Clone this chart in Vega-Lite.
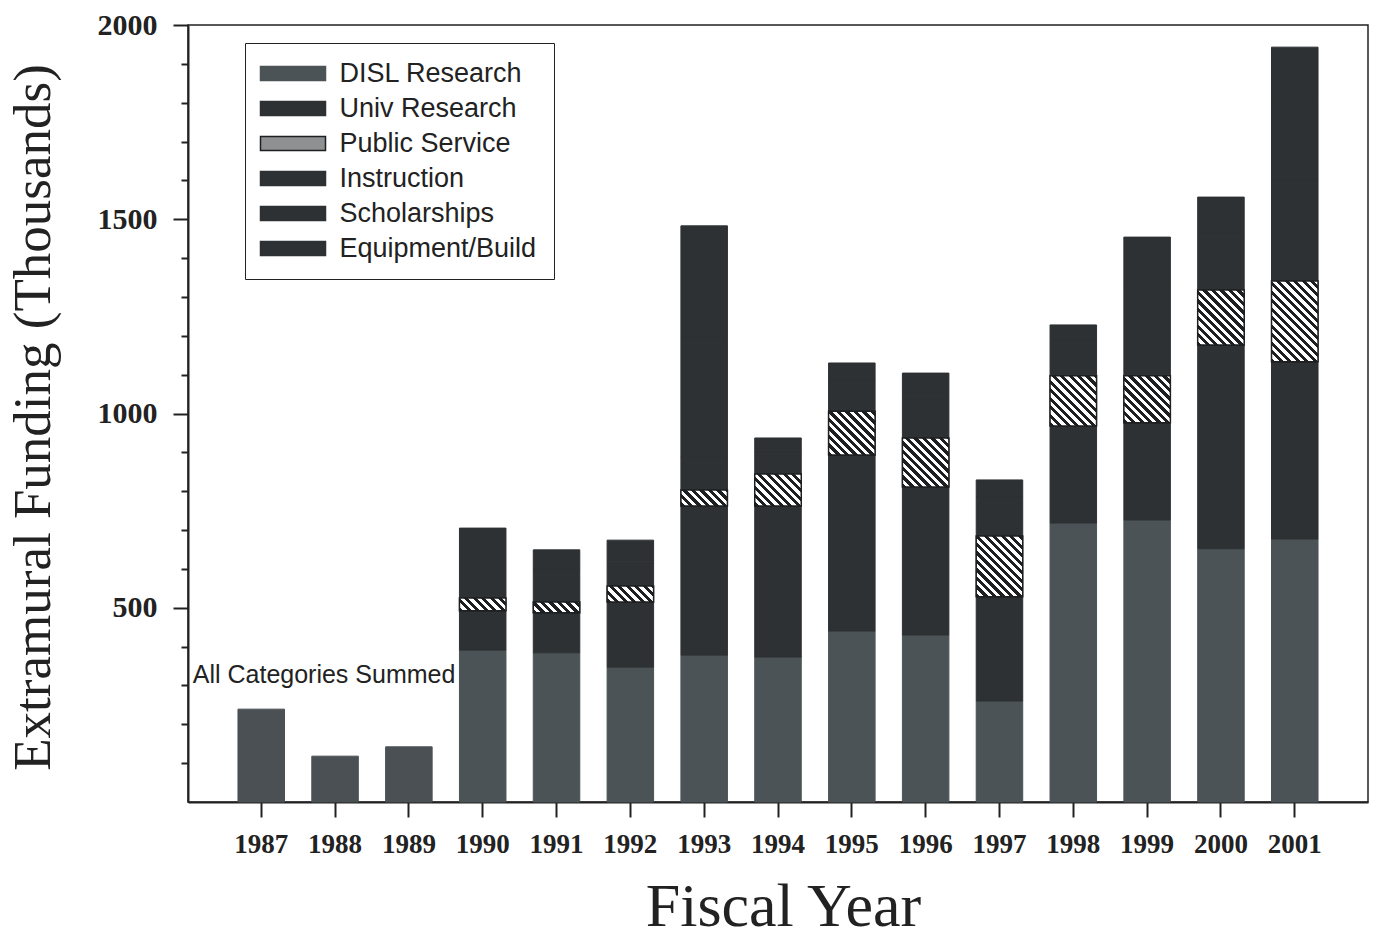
{
  "$schema": "https://vega.github.io/schema/vega-lite/v6.json",
  "width": 1180,
  "height": 777,
  "autosize": {"type": "none"},
  "padding": {"left": 188, "top": 25, "right": 8, "bottom": 135},
  "background": "#ffffff",
  "config": {
    "view": {"stroke": "#222222", "strokeWidth": 1.5},
    "axis": {"grid": false}
  },
  "params": [
    {"name": "hs", "value": [
      {"offset":0,"color":"#1d1f21"},{"offset":0.01667,"color":"#1d1f21"},{"offset":0.01667,"color":"#ffffff"},{"offset":0.03333,"color":"#ffffff"},
      {"offset":0.03333,"color":"#1d1f21"},{"offset":0.05,"color":"#1d1f21"},{"offset":0.05,"color":"#ffffff"},{"offset":0.06667,"color":"#ffffff"},
      {"offset":0.06667,"color":"#1d1f21"},{"offset":0.08333,"color":"#1d1f21"},{"offset":0.08333,"color":"#ffffff"},{"offset":0.1,"color":"#ffffff"},
      {"offset":0.1,"color":"#1d1f21"},{"offset":0.11667,"color":"#1d1f21"},{"offset":0.11667,"color":"#ffffff"},{"offset":0.13333,"color":"#ffffff"},
      {"offset":0.13333,"color":"#1d1f21"},{"offset":0.15,"color":"#1d1f21"},{"offset":0.15,"color":"#ffffff"},{"offset":0.16667,"color":"#ffffff"},
      {"offset":0.16667,"color":"#1d1f21"},{"offset":0.18333,"color":"#1d1f21"},{"offset":0.18333,"color":"#ffffff"},{"offset":0.2,"color":"#ffffff"},
      {"offset":0.2,"color":"#1d1f21"},{"offset":0.21667,"color":"#1d1f21"},{"offset":0.21667,"color":"#ffffff"},{"offset":0.23333,"color":"#ffffff"},
      {"offset":0.23333,"color":"#1d1f21"},{"offset":0.25,"color":"#1d1f21"},{"offset":0.25,"color":"#ffffff"},{"offset":0.26667,"color":"#ffffff"},
      {"offset":0.26667,"color":"#1d1f21"},{"offset":0.28333,"color":"#1d1f21"},{"offset":0.28333,"color":"#ffffff"},{"offset":0.3,"color":"#ffffff"},
      {"offset":0.3,"color":"#1d1f21"},{"offset":0.31667,"color":"#1d1f21"},{"offset":0.31667,"color":"#ffffff"},{"offset":0.33333,"color":"#ffffff"},
      {"offset":0.33333,"color":"#1d1f21"},{"offset":0.35,"color":"#1d1f21"},{"offset":0.35,"color":"#ffffff"},{"offset":0.36667,"color":"#ffffff"},
      {"offset":0.36667,"color":"#1d1f21"},{"offset":0.38333,"color":"#1d1f21"},{"offset":0.38333,"color":"#ffffff"},{"offset":0.4,"color":"#ffffff"},
      {"offset":0.4,"color":"#1d1f21"},{"offset":0.41667,"color":"#1d1f21"},{"offset":0.41667,"color":"#ffffff"},{"offset":0.43333,"color":"#ffffff"},
      {"offset":0.43333,"color":"#1d1f21"},{"offset":0.45,"color":"#1d1f21"},{"offset":0.45,"color":"#ffffff"},{"offset":0.46667,"color":"#ffffff"},
      {"offset":0.46667,"color":"#1d1f21"},{"offset":0.48333,"color":"#1d1f21"},{"offset":0.48333,"color":"#ffffff"},{"offset":0.5,"color":"#ffffff"},
      {"offset":0.5,"color":"#1d1f21"},{"offset":0.51667,"color":"#1d1f21"},{"offset":0.51667,"color":"#ffffff"},{"offset":0.53333,"color":"#ffffff"},
      {"offset":0.53333,"color":"#1d1f21"},{"offset":0.55,"color":"#1d1f21"},{"offset":0.55,"color":"#ffffff"},{"offset":0.56667,"color":"#ffffff"},
      {"offset":0.56667,"color":"#1d1f21"},{"offset":0.58333,"color":"#1d1f21"},{"offset":0.58333,"color":"#ffffff"},{"offset":0.6,"color":"#ffffff"},
      {"offset":0.6,"color":"#1d1f21"},{"offset":0.61667,"color":"#1d1f21"},{"offset":0.61667,"color":"#ffffff"},{"offset":0.63333,"color":"#ffffff"},
      {"offset":0.63333,"color":"#1d1f21"},{"offset":0.65,"color":"#1d1f21"},{"offset":0.65,"color":"#ffffff"},{"offset":0.66667,"color":"#ffffff"},
      {"offset":0.66667,"color":"#1d1f21"},{"offset":0.68333,"color":"#1d1f21"},{"offset":0.68333,"color":"#ffffff"},{"offset":0.7,"color":"#ffffff"},
      {"offset":0.7,"color":"#1d1f21"},{"offset":0.71667,"color":"#1d1f21"},{"offset":0.71667,"color":"#ffffff"},{"offset":0.73333,"color":"#ffffff"},
      {"offset":0.73333,"color":"#1d1f21"},{"offset":0.75,"color":"#1d1f21"},{"offset":0.75,"color":"#ffffff"},{"offset":0.76667,"color":"#ffffff"},
      {"offset":0.76667,"color":"#1d1f21"},{"offset":0.78333,"color":"#1d1f21"},{"offset":0.78333,"color":"#ffffff"},{"offset":0.8,"color":"#ffffff"},
      {"offset":0.8,"color":"#1d1f21"},{"offset":0.81667,"color":"#1d1f21"},{"offset":0.81667,"color":"#ffffff"},{"offset":0.83333,"color":"#ffffff"},
      {"offset":0.83333,"color":"#1d1f21"},{"offset":0.85,"color":"#1d1f21"},{"offset":0.85,"color":"#ffffff"},{"offset":0.86667,"color":"#ffffff"},
      {"offset":0.86667,"color":"#1d1f21"},{"offset":0.88333,"color":"#1d1f21"},{"offset":0.88333,"color":"#ffffff"},{"offset":0.9,"color":"#ffffff"},
      {"offset":0.9,"color":"#1d1f21"},{"offset":0.91667,"color":"#1d1f21"},{"offset":0.91667,"color":"#ffffff"},{"offset":0.93333,"color":"#ffffff"},
      {"offset":0.93333,"color":"#1d1f21"},{"offset":0.95,"color":"#1d1f21"},{"offset":0.95,"color":"#ffffff"},{"offset":0.96667,"color":"#ffffff"},
      {"offset":0.96667,"color":"#1d1f21"},{"offset":0.98333,"color":"#1d1f21"},{"offset":0.98333,"color":"#ffffff"},{"offset":1,"color":"#ffffff"}
    ]}
  ],
  "datasets": {
    "funding": [
      {"year":"1987","category":"All Categories Summed","value":239},
      {"year":"1988","category":"All Categories Summed","value":118},
      {"year":"1989","category":"All Categories Summed","value":142},
      {"year":"1990","category":"DISL Research","value":391},
      {"year":"1990","category":"Univ Research","value":101},
      {"year":"1990","category":"Public Service","value":33},
      {"year":"1990","category":"Instruction","value":111},
      {"year":"1990","category":"Scholarships","value":69},
      {"year":"1991","category":"DISL Research","value":384},
      {"year":"1991","category":"Univ Research","value":103},
      {"year":"1991","category":"Public Service","value":28},
      {"year":"1991","category":"Instruction","value":85},
      {"year":"1991","category":"Scholarships","value":49},
      {"year":"1992","category":"DISL Research","value":347},
      {"year":"1992","category":"Univ Research","value":168},
      {"year":"1992","category":"Public Service","value":41},
      {"year":"1992","category":"Instruction","value":64},
      {"year":"1992","category":"Scholarships","value":54},
      {"year":"1993","category":"DISL Research","value":378},
      {"year":"1993","category":"Univ Research","value":384},
      {"year":"1993","category":"Public Service","value":41},
      {"year":"1993","category":"Instruction","value":85},
      {"year":"1993","category":"Scholarships","value":310},
      {"year":"1993","category":"Equipment/Build","value":285},
      {"year":"1994","category":"DISL Research","value":373},
      {"year":"1994","category":"Univ Research","value":389},
      {"year":"1994","category":"Public Service","value":82},
      {"year":"1994","category":"Instruction","value":60},
      {"year":"1994","category":"Scholarships","value":33},
      {"year":"1995","category":"DISL Research","value":440},
      {"year":"1995","category":"Univ Research","value":453},
      {"year":"1995","category":"Public Service","value":113},
      {"year":"1995","category":"Instruction","value":80},
      {"year":"1995","category":"Scholarships","value":44},
      {"year":"1996","category":"DISL Research","value":430},
      {"year":"1996","category":"Univ Research","value":381},
      {"year":"1996","category":"Public Service","value":126},
      {"year":"1996","category":"Instruction","value":110},
      {"year":"1996","category":"Scholarships","value":57},
      {"year":"1997","category":"DISL Research","value":260},
      {"year":"1997","category":"Univ Research","value":268},
      {"year":"1997","category":"Public Service","value":157},
      {"year":"1997","category":"Instruction","value":100},
      {"year":"1997","category":"Scholarships","value":44},
      {"year":"1998","category":"DISL Research","value":718},
      {"year":"1998","category":"Univ Research","value":250},
      {"year":"1998","category":"Public Service","value":129},
      {"year":"1998","category":"Instruction","value":91},
      {"year":"1998","category":"Scholarships","value":40},
      {"year":"1999","category":"DISL Research","value":726},
      {"year":"1999","category":"Univ Research","value":250},
      {"year":"1999","category":"Public Service","value":121},
      {"year":"1999","category":"Instruction","value":240},
      {"year":"1999","category":"Scholarships","value":117},
      {"year":"2000","category":"DISL Research","value":652},
      {"year":"2000","category":"Univ Research","value":524},
      {"year":"2000","category":"Public Service","value":142},
      {"year":"2000","category":"Instruction","value":150},
      {"year":"2000","category":"Scholarships","value":89},
      {"year":"2001","category":"DISL Research","value":677},
      {"year":"2001","category":"Univ Research","value":456},
      {"year":"2001","category":"Public Service","value":208},
      {"year":"2001","category":"Instruction","value":260},
      {"year":"2001","category":"Scholarships","value":200},
      {"year":"2001","category":"Equipment/Build","value":142}
    ],
    "cats": [
      {"category":"All Categories Summed","ord":0},
      {"category":"DISL Research","ord":1},
      {"category":"Univ Research","ord":2},
      {"category":"Public Service","ord":3},
      {"category":"Instruction","ord":4},
      {"category":"Scholarships","ord":5},
      {"category":"Equipment/Build","ord":6}
    ],
    "note": [
      {"year":"1988","value":327,"label":"All Categories Summed"}
    ]
  },
  "resolve": {"axis": {"y": "independent"}},
  "layer": [
    {
      "data": {"name": "funding"},
      "transform": [
        {"lookup": "category", "from": {"data": {"name": "cats"}, "key": "category", "fields": ["ord"]}},
        {"stack": "value", "groupby": ["year"], "sort": [{"field": "ord", "order": "ascending"}], "as": ["v0", "v1"]}
      ],
      "mark": {"type": "bar", "strokeWidth": 1},
      "encoding": {
        "x": {
          "field": "year", "type": "ordinal",
          "scale": {"paddingInner": 0.37, "paddingOuter": 0.677},
          "axis": {
            "labelAngle": 0, "tickSize": 15, "tickWidth": 2, "tickColor": "#222222",
            "domainColor": "#222222", "domainWidth": 2,
            "labelFont": "Liberation Serif", "labelFontSize": 27, "labelFontWeight": "bold",
            "labelColor": "#222222", "labelPadding": 14,
            "title": "Fiscal Year", "titleFont": "Liberation Serif", "titleFontSize": 62,
            "titleFontWeight": "normal", "titleColor": "#222222",
            "titleX": 595, "titleY": 123, "titleBaseline": "alphabetic", "titleAlign": "center"
          }
        },
        "y": {
          "field": "v0", "type": "quantitative",
          "scale": {"domain": [0, 2000], "nice": false},
          "axis": {
            "orient": "left", "format": "d",
            "values": [500, 1000, 1500, 2000], "tickSize": 15, "tickWidth": 2, "tickColor": "#222222",
            "domainColor": "#222222", "domainWidth": 2,
            "labelFont": "Liberation Serif", "labelFontSize": 30, "labelFontWeight": "bold",
            "labelColor": "#222222", "labelPadding": 16,
            "title": "Extramural Funding (Thousands)", "titleFont": "Liberation Serif",
            "titleFontSize": 53, "titleFontWeight": "normal", "titleColor": "#222222",
            "titleX": -155, "titleY": 392, "titleAngle": -90, "titleBaseline": "middle", "titleAlign": "center"
          }
        },
        "y2": {"field": "v1"},
        "stroke": {
          "field": "category", "type": "nominal",
          "scale": {
            "domain": ["DISL Research", "Univ Research", "Public Service", "Instruction", "Scholarships", "Equipment/Build", "All Categories Summed"],
            "range": ["#4c5356", "#2d3133", "#1d1f21", "#2d3133", "#2d3133", "#2d3133", "#4a5053"]
          },
          "legend": null
        },
        "color": {
          "field": "category", "type": "nominal",
          "scale": {
            "domain": ["DISL Research", "Univ Research", "Public Service", "Instruction", "Scholarships", "Equipment/Build", "All Categories Summed"],
            "range": ["#4c5356", "#2d3133", "#8e9092", "#2d3133", "#2d3133", "#2d3133", "#4a5053"]
          },
          "legend": {
            "values": ["DISL Research", "Univ Research", "Public Service", "Instruction", "Scholarships", "Equipment/Build"],
            "orient": "none", "legendX": 57, "legendY": 18,
            "title": null, "padding": 17, "rowPadding": 7,
            "strokeColor": "#222222", "fillColor": "#ffffff",
            "symbolType": "M-3.25,-0.7H3.25V0.7H-3.25Z", "symbolSize": 400, "symbolOffset": 17.5,
            "symbolStrokeWidth": 1.5, "symbolStrokeColor": "#1d1f21",
            "labelFont": "Liberation Sans", "labelFontSize": 27, "labelColor": "#222222",
            "labelOffset": 33, "labelLimit": 400
          }
        }
      }
    },
    {
      "data": {"name": "funding"},
      "transform": [
        {"lookup": "category", "from": {"data": {"name": "cats"}, "key": "category", "fields": ["ord"]}},
        {"stack": "value", "groupby": ["year"], "sort": [{"field": "ord", "order": "ascending"}], "as": ["v0", "v1"]},
        {"filter": "datum.category === 'Public Service'"}
      ],
      "mark": {
        "type": "bar",
        "stroke": "#1d1f21",
        "strokeWidth": 1.5,
        "fill": {"expr": "{gradient:'linear',x1:0,y1:1,x2:254.6*bandwidth('x')/(bandwidth('x')*bandwidth('x')+(datum.v1-datum.v0)*(datum.v1-datum.v0)*0.15093),y2:1-254.6*(datum.v1-datum.v0)*0.3885/(bandwidth('x')*bandwidth('x')+(datum.v1-datum.v0)*(datum.v1-datum.v0)*0.15093),stops:hs}"}
      },
      "encoding": {
        "x": {"field": "year", "type": "ordinal"},
        "y": {"field": "v0", "type": "quantitative", "axis": null},
        "y2": {"field": "v1"}
      }
    },
    {
      "data": {"name": "note"},
      "mark": {"type": "text", "font": "Liberation Sans", "fontSize": 25, "color": "#222222", "align": "center", "baseline": "middle", "dx": -11},
      "encoding": {
        "x": {"field": "year", "type": "ordinal"},
        "y": {
          "field": "value", "type": "quantitative",
          "axis": {
            "orient": "left", "values": [100,200,300,400,600,700,800,900,1100,1200,1300,1400,1600,1700,1800,1900],
            "labels": false, "domain": false, "tickSize": 7, "tickWidth": 2, "tickColor": "#222222", "title": null
          }
        },
        "text": {"field": "label"}
      }
    }
  ]
}
